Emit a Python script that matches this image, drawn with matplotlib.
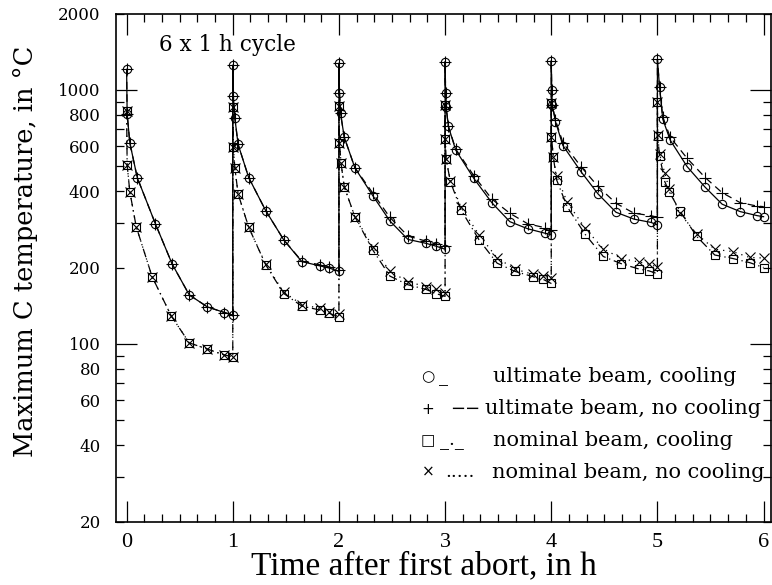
import numpy as np
import matplotlib
matplotlib.use("Agg")
import matplotlib.pyplot as plt
from matplotlib.ticker import FixedLocator, FuncFormatter

# time after first abort (h) and max C temperature (deg C), one list per cycle
t_ult = [
    [0.0, 0.005, 0.03, 0.10, 0.27, 0.43, 0.59, 0.76, 0.92, 1.0],
    [1.0, 1.005, 1.02, 1.05, 1.15, 1.31, 1.48, 1.65, 1.82, 1.91, 2.0],
    [2.0, 2.005, 2.015, 2.05, 2.15, 2.32, 2.48, 2.65, 2.82, 2.91, 3.0],
    [3.0, 3.005, 3.01, 3.03, 3.10, 3.27, 3.44, 3.61, 3.78, 3.94, 4.0],
    [4.0, 4.005, 4.01, 4.04, 4.11, 4.28, 4.44, 4.61, 4.78, 4.94, 5.0],
    [5.0, 5.02, 5.05, 5.12, 5.28, 5.45, 5.61, 5.78, 5.94, 6.0],
]
T_ult_cool = [
    [1206, 805, 620, 452, 298, 206, 156, 140, 133, 130],
    [1254, 947, 773, 611, 452, 335, 257, 211, 203, 199, 193],
    [1274, 976, 809, 652, 494, 383, 305, 258, 249, 243, 236],
    [1293, 976, 860, 721, 580, 449, 360, 303, 284, 273, 269],
    [1304, 1000, 870, 750, 604, 477, 390, 330, 310, 301, 294],
    [1321, 1025, 769, 635, 499, 414, 355, 332, 320, 317],
]
T_ult_nocool = [
    [1206, 805, 620, 452, 298, 206, 156, 140, 133, 130],
    [1254, 947, 773, 611, 452, 335, 257, 212, 205, 201, 196],
    [1274, 976, 809, 652, 494, 392, 315, 266, 254, 248, 242],
    [1293, 976, 860, 721, 585, 460, 372, 327, 297, 287, 281],
    [1304, 1000, 870, 760, 620, 499, 417, 358, 327, 320, 315],
    [1321, 1030, 785, 652, 538, 452, 394, 360, 349, 347],
]

t_nom = [
    [0.0, 0.005, 0.03, 0.09, 0.24, 0.42, 0.59, 0.76, 0.92, 1.0],
    [1.0, 1.005, 1.02, 1.05, 1.15, 1.31, 1.48, 1.65, 1.82, 1.91, 2.0],
    [2.0, 2.005, 2.02, 2.05, 2.15, 2.32, 2.48, 2.65, 2.82, 2.91, 3.0],
    [3.0, 3.002, 3.01, 3.05, 3.15, 3.32, 3.49, 3.66, 3.83, 3.92, 4.0],
    [4.0, 4.002, 4.02, 4.05, 4.15, 4.32, 4.49, 4.66, 4.83, 4.92, 5.0],
    [5.0, 5.002, 5.02, 5.07, 5.11, 5.21, 5.37, 5.54, 5.71, 5.87, 6.0],
]
T_nom_cool = [
    [829, 507, 398, 290, 184, 129, 101, 95.5, 90.5, 89],
    [855, 598, 492, 390, 288, 205, 158, 141, 136, 132, 128],
    [865, 620, 514, 416, 317, 234, 185, 171, 164, 158, 154],
    [873, 640, 533, 435, 337, 257, 208, 193, 184, 180, 173],
    [886, 652, 543, 443, 347, 270, 221, 207, 197, 194, 189],
    [899, 659, 550, 435, 398, 335, 265, 224, 217, 209, 200],
]
T_nom_nocool = [
    [829, 507, 398, 290, 184, 129, 101, 95.5, 90.5, 89],
    [855, 598, 492, 390, 288, 206, 160, 143, 138, 134, 131],
    [865, 620, 514, 416, 317, 241, 193, 176, 168, 164, 159],
    [873, 640, 533, 440, 345, 269, 218, 197, 188, 185, 182],
    [886, 652, 543, 459, 362, 285, 237, 217, 210, 206, 201],
    [899, 665, 560, 470, 409, 327, 271, 236, 231, 219, 218],
]

legend_rows = [
    ("\u25cb", "_", "ultimate beam, cooling"),
    ("+", "\u2212\u2212", "ultimate beam, no cooling"),
    ("\u25a1", "_._", "nominal beam, cooling"),
    ("\u00d7", ".....", "nominal beam, no cooling"),
]


def flat(parts):
    return np.concatenate([np.asarray(p, dtype=float) for p in parts])


W, H = 772, 585
fig = plt.figure(figsize=(W / 100, H / 100), dpi=100)
ax = fig.add_axes([116 / W, (H - 521.5) / H, (771 - 116) / W, 508 / H])

line_kw = dict(color="k", lw=0.9, mfc="none", mec="k", mew=0.8)
ax.plot(flat(t_ult), flat(T_ult_cool), ls="-", marker="o", ms=6, **line_kw)
ax.plot(flat(t_ult), flat(T_ult_nocool), ls=(0, (6, 4)), marker="+", ms=8, **line_kw)
ax.plot(flat(t_nom), flat(T_nom_cool), ls=(0, (7, 3, 1, 3)), marker="s", ms=5.5, **line_kw)
ax.plot(flat(t_nom), flat(T_nom_nocool), ls=(0, (1, 4)), marker="x", ms=6.5, **line_kw)

ax.set_yscale("log")
ax.set_xlim(-0.1, 6.07)
ax.set_ylim(20, 2000)

# x ticks: hours, minor every 10 minutes
ax.xaxis.set_major_locator(FixedLocator(range(0, 7)))
ax.xaxis.set_minor_locator(FixedLocator(np.arange(-1, 37) / 6.0))

# y ticks: long marks at decades, short marks elsewhere
ax.yaxis.set_major_locator(FixedLocator([100, 1000]))
ax.yaxis.set_major_formatter(FuncFormatter(lambda v, p: f"{v:.0f}"))
ax.yaxis.set_minor_locator(FixedLocator(
    [20, 30, 40, 50, 60, 70, 80, 90, 200, 300, 400, 500, 600, 700, 800, 900, 2000]))
labelled = {20, 40, 60, 80, 200, 400, 600, 800, 2000}
ax.yaxis.set_minor_formatter(FuncFormatter(
    lambda v, p: f"{v:.0f}" if round(v) in labelled else ""))

ax.tick_params(which="both", direction="in", top=True, right=True, width=0.9, color="k")
ax.tick_params(which="major", length=15)
ax.tick_params(which="minor", length=6)
ax.tick_params(axis="y", which="both", pad=11, labelsize=12)
ax.tick_params(axis="x", which="both", pad=8, labelsize=16)
for lab in ax.get_yticklabels(which="both"):
    lab.set_family("DejaVu Serif")
for lab in ax.get_xticklabels():
    lab.set_family("Liberation Serif")
for sp in ax.spines.values():
    sp.set_linewidth(1.2)

fig.text(424 / W, 1 - 566 / H, "Time after first abort, in h",
         family="Liberation Serif", fontsize=24, ha="center", va="center")
fig.text(25 / W, 1 - 251 / H, "Maximum C temperature, in \u00b0C",
         family="DejaVu Serif", fontsize=18.5, rotation=90, ha="center", va="center")

fig.text(159 / W, 1 - 45 / H, "6 x 1 h cycle", family="DejaVu Serif",
         fontsize=15.5, ha="left", va="center")

# hand-written key
row_y = [377, 409, 441, 472]
dash_x = [439, 450, 440, 445]
text_x = [493, 485, 493, 492]
for (sym, dash, label), y, dx, tx in zip(legend_rows, row_y, dash_x, text_x):
    fig.text(428 / W, 1 - y / H, sym, family=["DejaVu Sans"], fontsize=11,
             ha="center", va="center")
    fig.text(dx / W, 1 - y / H, dash, family="DejaVu Serif", fontsize=13,
             ha="left", va="center")
    fig.text(tx / W, 1 - y / H, label, family="DejaVu Serif", fontsize=15,
             ha="left", va="center")

fig.savefig("out.png", dpi=100)
